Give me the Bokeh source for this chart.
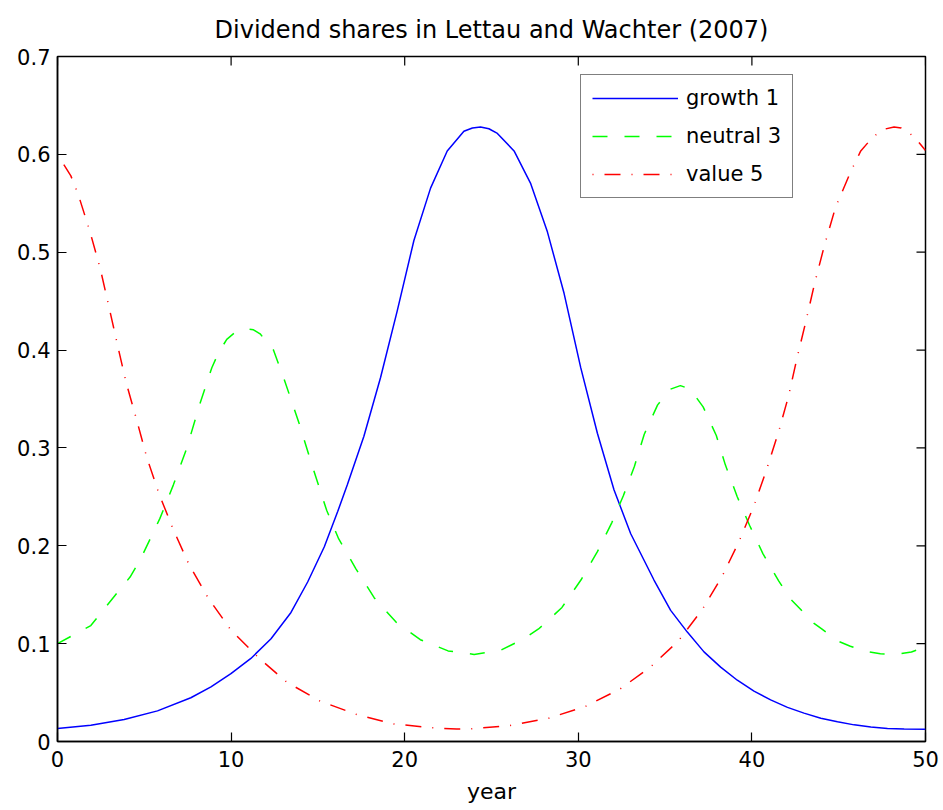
import math
from bokeh.plotting import figure
from bokeh.models import Range1d, FixedTicker, Legend, LegendItem
from bokeh.embed import file_html
from bokeh.resources import INLINE

# ---------------- data ----------------
title_text = "Dividend shares in Lettau and Wachter (2007)"
x_label = "year"
x_ticks = [0, 10, 20, 30, 40, 50]
y_ticks = [0, 0.1, 0.2, 0.3, 0.4, 0.5, 0.6, 0.7]
y_tick_labels = ["0", "0.1", "0.2", "0.3", "0.4", "0.5", "0.6", "0.7"]

growth_label = "growth 1"
growth_year = [0, 1.92, 3.84, 5.76, 7.68, 8.84, 9.99, 11.14, 12.3, 13.45,
               14.41, 15.37, 16.14, 16.69, 17.65, 18.61, 19.57, 20.53, 21.49, 22.45,
               23.41, 23.9, 24.37, 24.85, 25.34, 26.3, 27.26, 28.22, 29.18, 30.14,
               31.1, 32.06, 33.02, 34.36, 35.32, 36.28, 37.24, 38.2, 39.16, 40.12,
               41.08, 42.05, 43.0, 43.97, 44.93, 45.89, 46.85, 47.81, 48.77, 50]
growth_share = [0.0133, 0.0165, 0.0224, 0.0313, 0.0447, 0.0559, 0.0693, 0.0849, 0.105, 0.1319,
                0.163, 0.199, 0.235, 0.262, 0.312, 0.372, 0.440, 0.512, 0.5655, 0.6035,
                0.6236, 0.627, 0.628, 0.6262, 0.6214, 0.6035, 0.570, 0.5208, 0.458, 0.382,
                0.315, 0.257, 0.2123, 0.165, 0.134, 0.1118, 0.0916, 0.076, 0.0626, 0.0514,
                0.0425, 0.0349, 0.029, 0.0237, 0.0201, 0.017, 0.0148, 0.0134, 0.0127, 0.0125]

neutral_label = "neutral 3"
neutral_year = [0, 1.92, 3.3, 4.18, 4.8, 5.9, 6.67, 7.45, 8.2, 8.89,
                9.27, 9.75, 10.33, 10.8, 11.29, 11.67, 12.44, 13.06, 13.92, 14.65,
                15.51, 16.2, 17.19, 18.24, 19.5, 20.9, 22.5, 24.0, 25.5, 26.87,
                27.71, 28.22, 29.06, 30.15, 31.1, 31.94, 32.6, 33.23, 33.8, 34.57,
                35.3, 35.88, 36.45, 37.19, 37.95, 38.47, 39.15, 39.87, 40.64, 41.55,
                42.24, 42.7, 43.58, 44.04, 44.93, 45.67, 46.46, 47.4, 48.4, 49.19,
                50]
neutral_share = [0.100, 0.1185, 0.149, 0.168, 0.187, 0.228, 0.262, 0.300, 0.345, 0.382,
                 0.397, 0.411, 0.4195, 0.422, 0.4207, 0.4166, 0.400, 0.370, 0.325, 0.283,
                 0.236, 0.207, 0.1765, 0.147, 0.122, 0.104, 0.0926, 0.089, 0.093, 0.105,
                 0.115, 0.123, 0.137, 0.165, 0.194, 0.224, 0.2514, 0.281, 0.314, 0.344,
                 0.360, 0.3637, 0.360, 0.342, 0.3127, 0.2827, 0.2504, 0.2207, 0.1918, 0.1638,
                 0.1453, 0.137, 0.1207, 0.1148, 0.1028, 0.0974, 0.0925, 0.0896, 0.0893, 0.0915,
                 0.0965]

value_label = "value 5"
value_year = [0, 0.77, 1.2, 1.87, 2.47, 2.97, 3.45, 3.95, 4.56, 5.14,
              5.85, 6.67, 7.58, 8.69, 9.98, 11.61, 13.21, 15.13, 17.24, 19.35,
              21.57, 23.0, 23.87, 26.08, 28.29, 30.4, 32.42, 34.15, 35.78, 37.13,
              38.28, 39.24, 40.1, 40.84, 41.53, 42.12, 42.6, 43.12, 43.62, 44.18,
              44.81, 45.68, 46.27, 46.83, 47.23, 47.7, 48.19, 48.6, 48.96, 49.44,
              49.92, 50]
value_share = [0.600, 0.578, 0.5587, 0.521, 0.4827, 0.4438, 0.4057, 0.367, 0.3287, 0.2905,
               0.253, 0.2166, 0.1806, 0.1464, 0.1141, 0.0851, 0.0606, 0.0412, 0.0276, 0.018,
               0.014, 0.0128, 0.013, 0.0164, 0.0238, 0.0358, 0.0538, 0.076, 0.103, 0.1346,
               0.1686, 0.2037, 0.240, 0.2776, 0.316, 0.3536, 0.392, 0.430, 0.4687, 0.507,
               0.5454, 0.5818, 0.6035, 0.6149, 0.6214, 0.626, 0.628, 0.627, 0.6236, 0.616,
               0.6057, 0.604]

# ---------------- figure ----------------
FONT = "DejaVu Sans"

p = figure(width=943, height=810,
           x_range=Range1d(0, 50), y_range=Range1d(0, 0.7),
           output_backend="svg", toolbar_location=None,
           min_border_left=57, min_border_right=18,
           min_border_top=56, min_border_bottom=69,
           x_axis_label=x_label)

p.title.text = title_text
p.title.align = "center"
p.title.text_font = FONT
p.title.text_font_size = "24px"
p.title.text_font_style = "normal"
p.title.text_color = "black"
p.title.standoff = 26

p.xgrid.visible = False
p.ygrid.visible = False
p.background_fill_color = "white"
p.border_fill_color = "white"
p.outline_line_color = "black"
p.outline_line_width = 1.5
p.outline_line_alpha = 1.0


def style_axis(ax):
    ax.axis_line_color = "black"
    ax.axis_line_width = 1.5
    ax.major_tick_line_color = "black"
    ax.major_tick_line_width = 1.2
    ax.major_tick_in = 9
    ax.major_tick_out = 0
    ax.minor_tick_line_color = None
    ax.major_label_text_font = FONT
    ax.major_label_text_color = "black"
    ax.major_label_text_font_size = "21px"


xa = p.xaxis[0]
xa.ticker = FixedTicker(ticks=x_ticks)
style_axis(xa)
xa.major_label_standoff = 9
xa.axis_label_text_font = FONT
xa.axis_label_text_font_size = "22px"
xa.axis_label_text_font_style = "normal"
xa.axis_label_text_color = "black"
xa.axis_label_standoff = 9

ya = p.yaxis[0]
ya.ticker = FixedTicker(ticks=y_ticks)
ya.major_label_overrides = {t: l for t, l in zip(y_ticks, y_tick_labels)}
style_axis(ya)
ya.major_label_standoff = 7

# inward tick marks on the top and right edges of the box (clipped to the frame)
p.scatter(x=x_ticks, y=[p.y_range.end] * len(x_ticks), marker="dash", size=18,
          angle=math.pi / 2, line_color="black", line_width=1.2)
p.scatter(x=[p.x_range.end] * len(y_ticks), y=y_ticks, marker="dash", size=18,
          angle=0, line_color="black", line_width=1.2)

r_growth = p.line(growth_year, growth_share, line_color="#0000ff", line_width=1.5)
r_neutral = p.line(neutral_year, neutral_share, line_color="#00ff00", line_width=1.5,
                   line_dash="15 17")
r_value = p.line(value_year, value_share, line_color="#ff0000", line_width=1.5,
                 line_dash="1 11 16 11")

legend = Legend(items=[LegendItem(label=growth_label, renderers=[r_growth]),
                       LegendItem(label=neutral_label, renderers=[r_neutral]),
                       LegendItem(label=value_label, renderers=[r_value])],
                location=(523, 543))
legend.glyph_width = 86
legend.glyph_height = 20
legend.label_height = 20
legend.spacing = 14
legend.padding = 11
legend.margin = 0
legend.label_standoff = 8
legend.label_text_font = FONT
legend.label_text_font_size = "21px"
legend.label_text_color = "black"
legend.border_line_color = "black"
legend.border_line_width = 1.5
legend.background_fill_color = "white"
legend.background_fill_alpha = 1.0
p.add_layout(legend)

open("out.html", "w").write(file_html(p, INLINE))
